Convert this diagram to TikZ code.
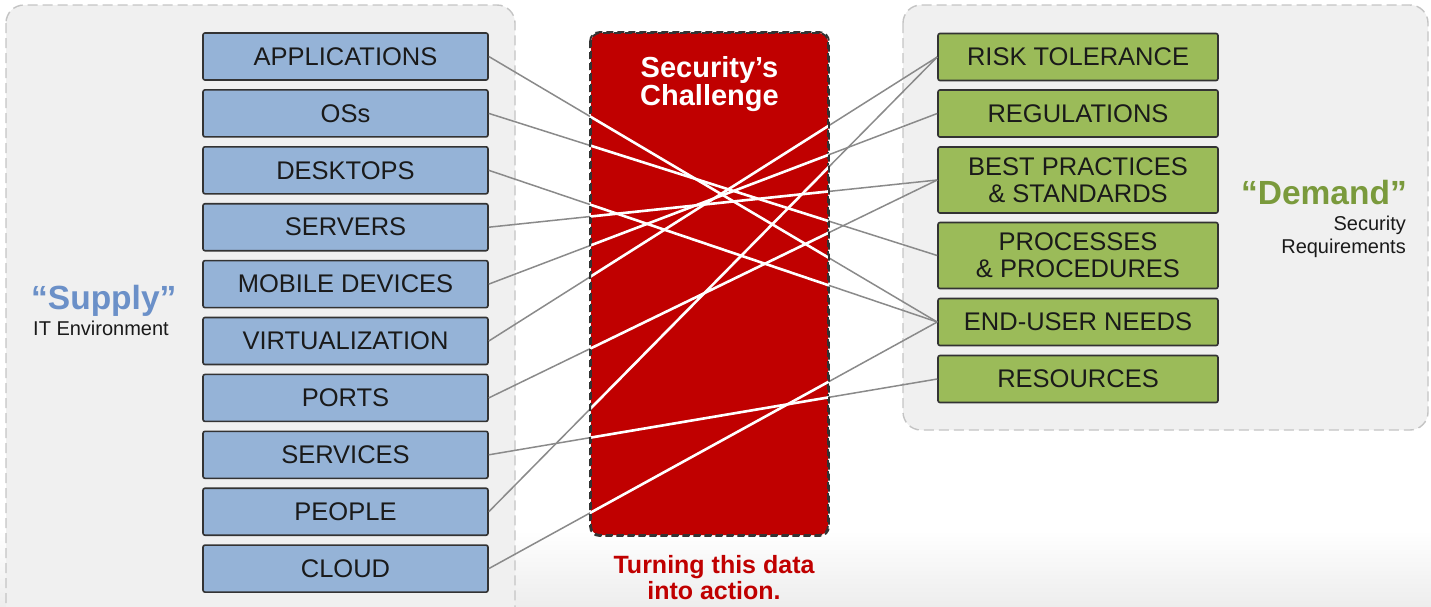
\documentclass[tikz,border=0pt]{standalone}
\usepackage{fontspec}
\setmainfont{Liberation Sans}
\definecolor{supplyfill}{HTML}{95B3D7}
\definecolor{demandfill}{HTML}{9BBB59}
\definecolor{supplytext}{HTML}{6B90C8}
\definecolor{demandtext}{HTML}{7A9A3C}
\definecolor{challred}{HTML}{C00000}
\definecolor{boxline}{HTML}{333333}
\definecolor{panelfill}{HTML}{F0F0F0}
\definecolor{panelline}{HTML}{C4C4C4}
\definecolor{linkgray}{HTML}{8A8A8A}
\definecolor{inktext}{HTML}{1A1A1A}
\begin{document}
\begin{tikzpicture}[x=1pt,y=-1pt,
  panel/.style={draw=panelline, fill=panelfill, line width=1.4pt, dash pattern=on 10pt off 5pt, rounded corners=18pt},
  itembox/.style={draw=boxline, line width=1.6pt, rounded corners=2pt, minimum height=47pt,
    inner sep=0pt, align=center, text=inktext, font=\fontsize{25.5}{28}\selectfont},
  supplybox/.style={itembox, fill=supplyfill, minimum width=285pt},
  demandbox/.style={itembox, fill=demandfill, minimum width=280pt},
  tallbox/.style={minimum height=66pt},
  redbox/.style={fill=challred, draw=boxline, line width=1.8pt, dash pattern=on 7pt off 4pt,
    rounded corners=9pt, minimum width=237pt, minimum height=502pt, inner sep=0pt},
  link/.style={draw=linkgray, line width=1.5pt},
  linkw/.style={draw=white, line width=2.6pt},
  boxtext/.style={yshift=-1.5pt},
]
\useasboundingbox (0,0) rectangle (1431,606);

% soft grey fade along the bottom edge
\shade[top color=white, bottom color=black!7] (0,530) rectangle (1431,606);

% supply and demand panels
\path[panel] (6,5) rectangle (515,650);
\path[panel] (903,5) rectangle (1428,430);

% supply column
\node[supplybox] (app)    at (345.5, 56.5) {\raisebox{-1.5pt}{APPLICATIONS}};
\node[supplybox] (oss)    at (345.5,113.4) {\raisebox{-1.5pt}{OSs}};
\node[supplybox] (desk)   at (345.5,170.3) {\raisebox{-1.5pt}{DESKTOPS}};
\node[supplybox] (serv)   at (345.5,227.2) {\raisebox{-1.5pt}{SERVERS}};
\node[supplybox] (mob)    at (345.5,284.1) {\raisebox{-1.5pt}{MOBILE DEVICES}};
\node[supplybox] (virt)   at (345.5,341.0) {\raisebox{-1.5pt}{VIRTUALIZATION}};
\node[supplybox] (ports)  at (345.5,397.9) {\raisebox{-1.5pt}{PORTS}};
\node[supplybox] (svc)    at (345.5,454.8) {\raisebox{-1.5pt}{SERVICES}};
\node[supplybox] (people) at (345.5,511.7) {\raisebox{-1.5pt}{PEOPLE}};
\node[supplybox] (cloud)  at (345.5,568.6) {\raisebox{-1.5pt}{CLOUD}};

% demand column
\node[demandbox] (risk) at (1078, 57) {\raisebox{-1.5pt}{RISK TOLERANCE}};
\node[demandbox] (reg)  at (1078,113.5) {\raisebox{-1.5pt}{REGULATIONS}};
\node[demandbox, tallbox] (best) at (1078,180) {BEST PRACTICES\\[-1pt]\& STANDARDS};
\node[demandbox, tallbox] (proc) at (1078,255.5) {PROCESSES\\[-1pt]\& PROCEDURES};
\node[demandbox] (eun)  at (1078,322) {\raisebox{-1.5pt}{END-USER NEEDS}};
\node[demandbox] (res)  at (1078,379) {\raisebox{-1.5pt}{RESOURCES}};

% panel captions
\node[anchor=west, inner sep=0pt, text=supplytext, font=\fontsize{33.5}{36}\selectfont\bfseries] (supply) at (31,301) {“Supply”};
\node[anchor=north west, inner sep=0pt, text=inktext, font=\fontsize{20}{23}\selectfont] (itenv) at (33,321) {IT Environment};
\node[anchor=east, inner sep=0pt, text=demandtext, font=\fontsize{33.5}{36}\selectfont\bfseries] (demand) at (1407,193) {“Demand”};
\node[anchor=north east, inner sep=0pt, align=right, text=inktext, font=\fontsize{20}{23}\selectfont] (secreq) at (1406,216) {Security\\Requirements};

% central challenge box
\node[redbox] (chal) at (709.5,284) {};

% connectors: grey everywhere, white where they cross the red box
\newcommand\linkpairs{app/eun, oss/proc, desk/eun, serv/best, mob/reg, virt/risk, ports/best, svc/res, people/risk, cloud/eun}
\foreach \a/\b in \linkpairs
  \draw[link] (\a.east) -- (\b.west);
\begin{scope}
  \clip[rounded corners=9pt] (chal.north west) rectangle (chal.south east);
  \foreach \a/\b in \linkpairs
    \draw[linkw] (\a.east) -- (\b.west);
\end{scope}
\draw[draw=boxline, line width=1.8pt, dash pattern=on 7pt off 4pt, rounded corners=9pt]
  (chal.north west) rectangle (chal.south east);

\node[align=center, text=white, inner sep=0pt, font=\fontsize{29}{28}\selectfont\bfseries] (title) at (709.5,84) {Security’s\\Challenge};
\node[align=center, text=challred, inner sep=0pt, font=\fontsize{25}{26}\selectfont\bfseries, anchor=north] (action) at (714,555) {Turning this data\\into action.};
\end{tikzpicture}
\end{document}
